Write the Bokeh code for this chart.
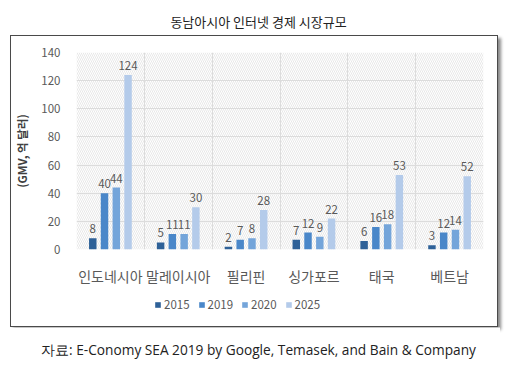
from bokeh.plotting import figure
from bokeh.layouts import column
from bokeh.models import (ColumnDataSource, FactorRange, Range1d, BoxAnnotation, Label,
                          Legend, LegendItem, FixedTicker, LabelSet)
from bokeh.core.properties import value
from bokeh.transform import dodge
from bokeh.embed import file_html
from bokeh.resources import INLINE

title_text = "동남아시아 인터넷 경제 시장규모"
caption_text = "자료: E-Conomy SEA 2019 by Google, Temasek, and Bain & Company"
y_label = "(GMV, 억 달러)"
countries = ["인도네시아", "말레이시아", "필리핀", "싱가포르", "태국", "베트남"]
years = ["2015", "2019", "2020", "2025"]
v2015 = [8, 5, 2, 7, 6, 3]
v2019 = [40, 11, 7, 12, 16, 12]
v2020 = [44, 11, 8, 9, 18, 14]
v2025 = [124, 30, 28, 22, 53, 52]
y_ticks = [0, 20, 40, 60, 80, 100, 120, 140]

series = [v2015, v2019, v2020, v2025]
colors = ["#2e6198", "#4a87c9", "#74a5da", "#b4cbea"]
offsets = [-0.26, -0.087, 0.087, 0.26]
FONT = "Noto Sans CJK KR"


def blank_fig(width, height, **kw):
    f = figure(width=width, height=height, x_range=Range1d(0, width), y_range=Range1d(height, 0),
               x_axis_type=None, y_axis_type=None, output_backend="svg",
               toolbar_location=None, min_border=0, **kw)
    f.grid.visible = False
    f.outline_line_color = None
    return f


top = blank_fig(500, 35)
top.add_layout(Label(x=258, y=21, text=title_text, text_align="center", text_baseline="middle",
                     text_font=FONT, text_font_size="13px", text_color="#222222"))

p = figure(width=486, height=252, x_range=FactorRange(*countries), y_range=Range1d(0, 140),
           output_backend="svg", toolbar_location=None,
           min_border_left=59, min_border_right=14, min_border_top=16, min_border_bottom=35)
p.outline_line_color = None

data = {"country": countries}
for y, s in zip(years, series):
    data["y" + y] = s
    data["t" + y] = [str(v) for v in s]
src = ColumnDataSource(data)

hatch = BoxAnnotation(fill_alpha=0, line_alpha=0, hatch_pattern="left_diagonal_line",
                      hatch_color="#e8e8e8", hatch_scale=4, hatch_weight=1, level="underlay")
p.center = [hatch] + list(p.center)

for y, s, c, o in zip(years, series, colors, offsets):
    p.vbar(x=dodge("country", o, range=p.x_range), top="y" + y, width=0.11, source=src,
           color=c, line_color=None)
    lbl = LabelSet(x=dodge("country", o, range=p.x_range), y="y" + y, text="t" + y, source=src,
                   text_align="center", text_baseline="bottom", y_offset=5,
                   text_font=value(FONT), text_font_size="11.5px", text_color="#595959")
    p.add_layout(lbl)

p.xgrid.ticker = FixedTicker(ticks=[1, 2, 3, 4, 5])
p.xgrid.grid_line_color = "#dcdcdc"
p.ygrid.ticker = FixedTicker(ticks=y_ticks)
p.ygrid.grid_line_color = "#dcdcdc"

p.yaxis.ticker = FixedTicker(ticks=y_ticks)
for ax in (p.xaxis[0], p.yaxis[0]):
    ax.axis_line_color = None
    ax.major_tick_line_color = None
    ax.minor_tick_line_color = None
    ax.major_label_text_color = "#595959"
    ax.major_label_text_font = FONT
p.yaxis.major_label_text_font_size = "11.5px"
p.yaxis.major_label_standoff = 10
p.xaxis.major_label_text_font_size = "14px"
p.xaxis.major_label_standoff = 10
p.yaxis.axis_label = y_label
p.yaxis.axis_label_text_font = FONT
p.yaxis.axis_label_text_font_size = "11.5px"
p.yaxis.axis_label_text_font_style = "bold"
p.yaxis.axis_label_text_color = "#404040"
p.yaxis.axis_label_standoff = 8

# legend strip inside the box (zero-area proxies that carry the series colours)
lg = blank_fig(486, 38)
items = []
for y, c in zip(years, colors):
    r = lg.vbar(x="y" + y, top=0, bottom=0, width=0, source=src, fill_color=c, line_color=None)
    items.append(LegendItem(label=y, renderers=[r]))
legend = Legend(items=items, orientation="horizontal", location=(78, 14),
                label_text_font=FONT, label_text_font_size="11.5px",
                label_text_color="#595959", glyph_width=7, glyph_height=7,
                label_standoff=3, spacing=8, border_line_color=None,
                background_fill_alpha=0, padding=0, margin=0)
lg.add_layout(legend)

boxed = column(p, lg, spacing=0, margin=(0, 0, 0, 10),
               styles={"border": "1px solid #4a4a4a", "box-shadow": "3px 3px 3px #8a8a8a",
                       "background-color": "white"})

bottom = blank_fig(500, 44)
bottom.add_layout(Label(x=258, y=22, text=caption_text, text_align="center", text_baseline="middle",
                        text_font="Open Sans", text_font_size="13.7px", text_color="#222222"))

layout = column(top, boxed, bottom, spacing=0)
open("out.html", "w").write(file_html(layout, INLINE))
